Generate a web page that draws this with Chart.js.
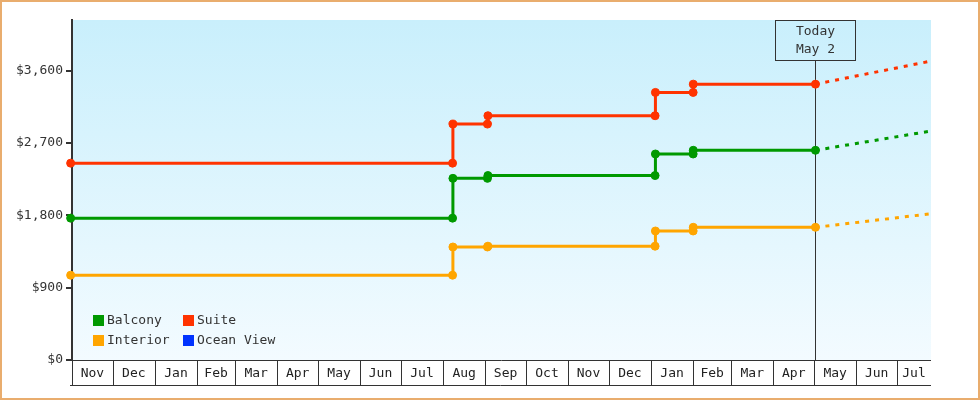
<!DOCTYPE html>
<html>
<head>
<meta charset="utf-8">
<title>Cabin prices</title>
<script src="https://cdn.jsdelivr.net/npm/chart.js@4.4.1/dist/chart.umd.min.js"></script>
<style>
  html, body { margin: 0; padding: 0; background: #fff; }
  #wrap { width: 980px; height: 400px; }
</style>
</head>
<body>
<div id="wrap"><canvas id="priceChart" width="980" height="400"></canvas></div>
<script>
// time range shown on the x axis
const xStart = '2021-11-01';
const xEnd = '2023-07-26';
const todayDate = '2023-05-02';
const todayLabel = ['Today', 'May 2'];

// month cells under the plot
const monthStarts = ['2021-11-01', '2021-12-01', '2022-01-01', '2022-02-01', '2022-03-01', '2022-04-01',
    '2022-05-01', '2022-06-01', '2022-07-01', '2022-08-01', '2022-09-01', '2022-10-01', '2022-11-01',
    '2022-12-01', '2023-01-01', '2023-02-01', '2023-03-01', '2023-04-01', '2023-05-01', '2023-06-01',
    '2023-07-01'];
const monthLabels = ['Nov', 'Dec', 'Jan', 'Feb', 'Mar', 'Apr', 'May', 'Jun', 'Jul', 'Aug', 'Sep', 'Oct',
    'Nov', 'Dec', 'Jan', 'Feb', 'Mar', 'Apr', 'May', 'Jun', 'Jul'];

const yTicks = [0, 900, 1800, 2700, 3600];
const yMax = 4230;

// dates where the prices were sampled (shared by all series)
const priceDates = ['2021-10-31', '2022-08-08', '2022-08-08T06:00', '2022-09-02T16:00', '2022-09-03',
    '2023-01-04', '2023-01-04T06:00', '2023-02-01', '2023-02-01T02:00', '2023-05-02'];

const balconyPrices = [1765, 1765, 2260, 2260, 2295, 2295, 2563, 2563, 2609, 2609];
const interiorPrices = [1055, 1055, 1406, 1406, 1416, 1416, 1605, 1605, 1651, 1651];
const suitePrices = [2449, 2449, 2935, 2935, 3039, 3039, 3329, 3329, 3432, 3432];
const oceanViewPrices = [];

// projection from today to the end of the range
const forecastDates = [todayDate, xEnd];
const balconyForecast = [2609, 2849];
const interiorForecast = [1651, 1820];
const suiteForecast = [3432, 3719];

const seriesNames = ['Balcony', 'Interior', 'Suite', 'Ocean View'];
const seriesColors = ['#009900', '#ffa500', '#ff3300', '#0033ff'];

const FONT = '13px "DejaVu Sans Mono", monospace';
const INK = '#333333';

function day(s) {
    const iso = s.length === 10 ? s + 'T00:00' : s;
    return Date.parse(iso + 'Z') / 86400000;
}

function points(dates, values) {
    return values.map((v, i) => ({ x: day(dates[i]), y: v }));
}

function priceSet(i, values) {
    return {
        label: seriesNames[i],
        data: points(priceDates, values),
        borderColor: seriesColors[i],
        backgroundColor: seriesColors[i],
        borderWidth: 3,
        pointRadius: 4,
        pointBorderWidth: 1,
        pointHoverRadius: 4,
        tension: 0,
        clip: 6
    };
}

function forecastSet(i, values) {
    return {
        label: seriesNames[i] + ' forecast',
        data: points(forecastDates, values),
        borderColor: seriesColors[i],
        borderWidth: 3,
        borderDash: [4, 6],
        borderCapStyle: 'butt',
        pointRadius: 0,
        tension: 0,
        clip: 6
    };
}

const decorations = {
    id: 'decorations',
    beforeDraw(chart) {
        const { ctx, chartArea: a } = chart;
        const g = ctx.createLinearGradient(0, a.top, 0, a.bottom);
        g.addColorStop(0, '#c9effc');
        g.addColorStop(1, '#f3fbff');
        ctx.save();
        ctx.fillStyle = g;
        ctx.fillRect(a.left, a.top, a.right - a.left, a.bottom - a.top);
        ctx.restore();
    },
    beforeDatasetsDraw(chart) {
        const { ctx, chartArea: a, scales } = chart;
        const tx = Math.round(scales.x.getPixelForValue(day(todayDate))) + 0.5;
        ctx.save();
        ctx.strokeStyle = INK;
        ctx.lineWidth = 1;
        ctx.beginPath();
        ctx.moveTo(tx, a.top + 40);
        ctx.lineTo(tx, a.bottom);
        ctx.stroke();
        ctx.strokeRect(tx - 40, a.top + 0.5, 80, 40);
        ctx.fillStyle = INK;
        ctx.font = FONT;
        ctx.textAlign = 'center';
        ctx.textBaseline = 'middle';
        ctx.fillText(todayLabel[0], tx, a.top + 12);
        ctx.fillText(todayLabel[1], tx, a.top + 30);
        ctx.restore();
    },
    afterDraw(chart) {
        const { ctx, chartArea: a, scales } = chart;
        const x = scales.x;
        ctx.save();

        // month cells
        const top = a.bottom + 0.5;
        const bottom = a.bottom + 25.5;
        ctx.strokeStyle = INK;
        ctx.lineWidth = 1;
        ctx.beginPath();
        ctx.moveTo(a.left, top);
        ctx.lineTo(a.right, top);
        ctx.moveTo(a.left - 2, bottom);
        ctx.lineTo(a.right, bottom);
        ctx.stroke();
        ctx.font = FONT;
        ctx.fillStyle = '#222';
        ctx.textAlign = 'center';
        ctx.textBaseline = 'middle';
        monthStarts.forEach((m, i) => {
            const x0 = x.getPixelForValue(day(m));
            const x1 = i + 1 < monthStarts.length ? x.getPixelForValue(day(monthStarts[i + 1])) : a.right;
            const px = Math.round(x0) + 0.5;
            ctx.beginPath();
            ctx.moveTo(px, top);
            ctx.lineTo(px, bottom);
            ctx.stroke();
            ctx.fillText(monthLabels[i], (x0 + Math.min(x1, a.right)) / 2, a.bottom + 13.5);
        });

        // legend inside the plot
        const cols = [a.left + 21, a.left + 111];
        const rows = [a.bottom - 45, a.bottom - 25];
        ctx.textAlign = 'left';
        seriesNames.forEach((name, i) => {
            const lx = cols[Math.floor(i / 2)];
            const ly = rows[i % 2];
            ctx.fillStyle = seriesColors[i];
            ctx.fillRect(lx, ly, 11, 11);
            ctx.fillStyle = INK;
            ctx.fillText(name, lx + 14, ly + 6);
        });

        // page frame
        ctx.strokeStyle = '#e9ad6e';
        ctx.lineWidth = 2;
        ctx.strokeRect(1, 1, chart.width - 2, chart.height - 2);
        ctx.restore();
    }
};

const ctx = document.getElementById('priceChart').getContext('2d');
const priceChart = new Chart(ctx, {
    type: 'line',
    data: {
        datasets: [
            forecastSet(0, balconyForecast),
            forecastSet(1, interiorForecast),
            forecastSet(2, suiteForecast),
            priceSet(0, balconyPrices),
            priceSet(1, interiorPrices),
            priceSet(2, suitePrices),
            priceSet(3, oceanViewPrices)
        ]
    },
    options: {
        responsive: false,
        animation: false,
        devicePixelRatio: 1,
        layout: { padding: { top: 20, right: 49, bottom: 40, left: 0 } },
        plugins: {
            legend: { display: false },
            tooltip: { enabled: false }
        },
        scales: {
            x: {
                type: 'linear',
                display: false,
                min: day(xStart),
                max: day(xEnd)
            },
            y: {
                min: 0,
                max: yMax,
                afterFit: (scale) => { scale.width = 72; },
                afterBuildTicks: (scale) => { scale.ticks = yTicks.map(v => ({ value: v })); },
                border: { display: true, color: INK, width: 2 },
                grid: { drawOnChartArea: false, color: INK, lineWidth: 2, tickLength: 6 },
                ticks: {
                    color: INK,
                    padding: 3,
                    font: { family: '"DejaVu Sans Mono", monospace', size: 13 },
                    callback: (v) => '$' + v.toLocaleString('en-US')
                }
            }
        }
    },
    plugins: [decorations]
});
</script>
</body>
</html>
